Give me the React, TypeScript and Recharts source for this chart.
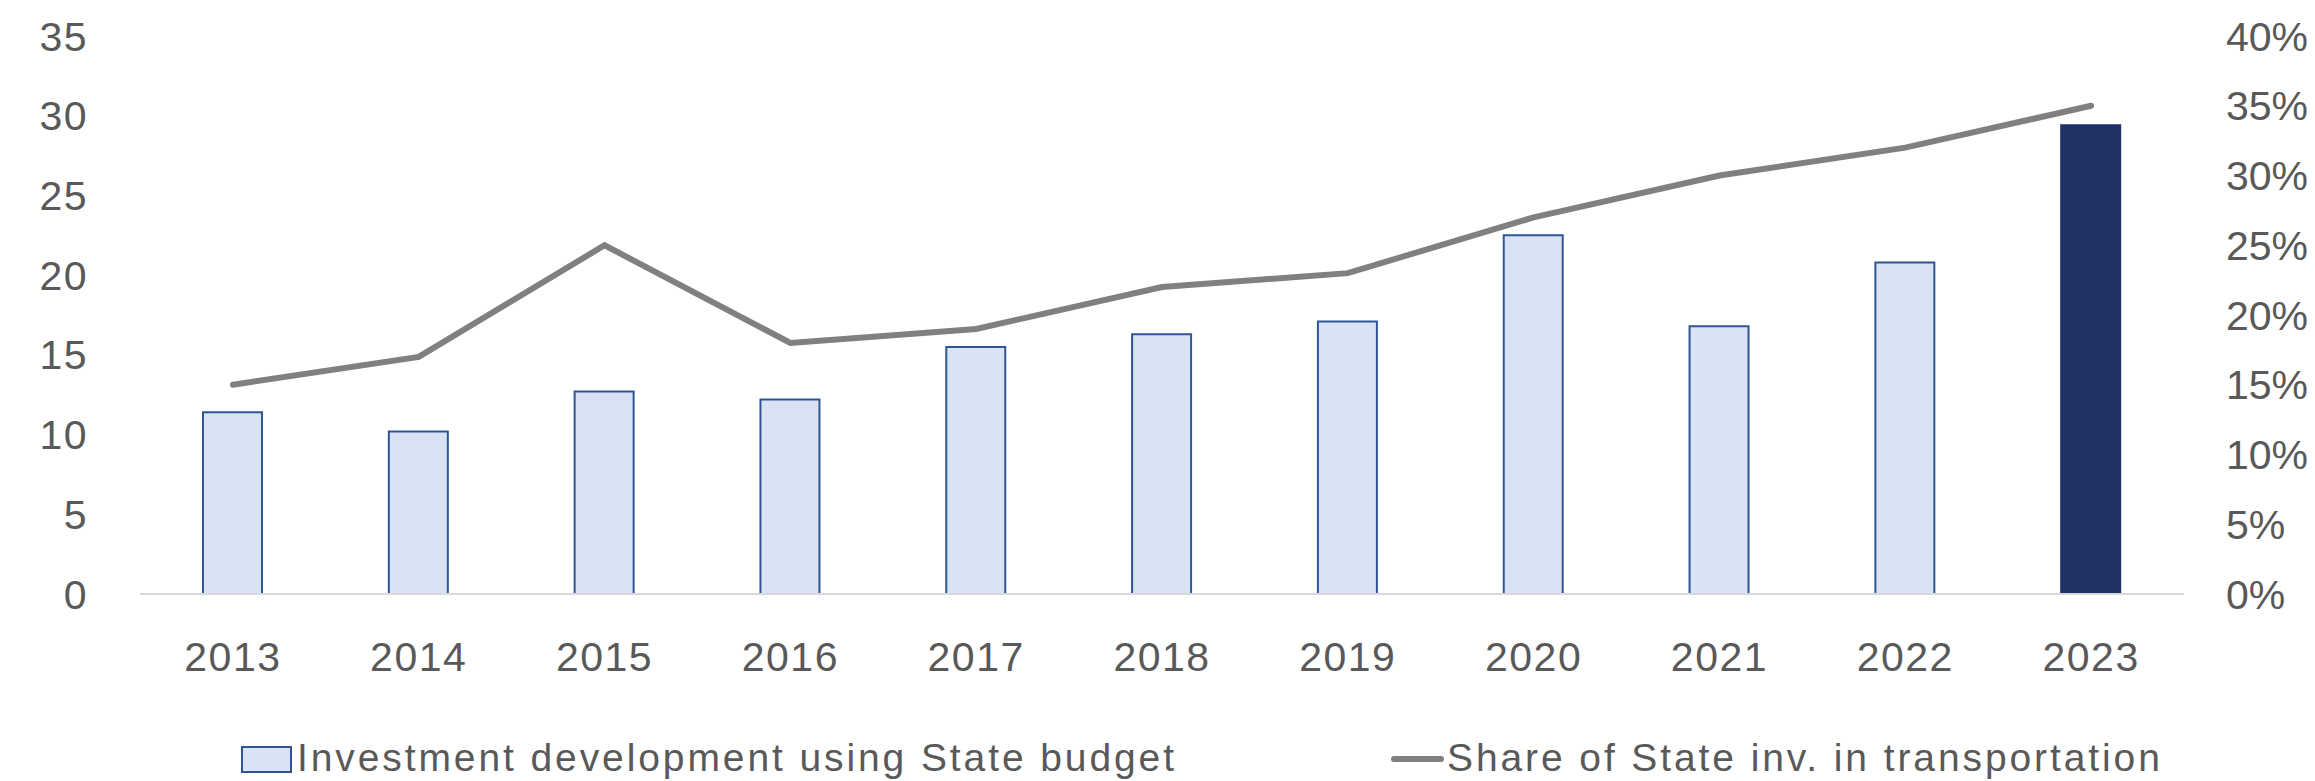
import React from "react";
import {
  ComposedChart, Bar, Line, XAxis, YAxis, Legend, Cell,
} from "recharts";

const years = ["2013", "2014", "2015", "2016", "2017", "2018", "2019", "2020", "2021", "2022", "2023"];
const investment = [11.4, 10.2, 12.7, 12.2, 15.5, 16.3, 17.1, 22.5, 16.8, 20.8, 29.4];
const sharePct = [15, 17, 25, 18, 19, 22, 23, 27, 30, 32, 35];
const leftTicks = [0, 5, 10, 15, 20, 25, 30, 35];
const rightTicks = [0, 5, 10, 15, 20, 25, 30, 35, 40];

const barName = "Investment development using State budget";
const lineName = "Share of State inv. in transportation";

const data = years.map((y, i) => ({ year: y, inv: investment[i], share: sharePct[i] }));

const FONT = "'Liberation Sans', Arial, sans-serif";
const TEXT = "#595959";
const tickStyle = { fontSize: 41, fill: TEXT, fontFamily: FONT, letterSpacing: 1.5 };
const rightTickStyle = { fontSize: 41, fill: TEXT, fontFamily: FONT, letterSpacing: 0 };

function renderLegend() {
  const label: React.CSSProperties = {
    position: "absolute",
    top: 0,
    fontSize: 39,
    lineHeight: "30px",
    color: TEXT,
    fontFamily: FONT,
    letterSpacing: 2.9,
    whiteSpace: "nowrap",
  };
  return (
    <div style={{ position: "relative", width: 2299, height: 30 }}>
      <div style={{ position: "absolute", left: 233, top: 3, width: 47, height: 23, background: "#DAE3F3", border: "2px solid #2F5597" }} />
      <span style={{ ...label, left: 289 }}>{barName}</span>
      <div style={{ position: "absolute", left: 1383, top: 13, width: 53, height: 6, borderRadius: 3, background: "#808080" }} />
      <span style={{ ...label, left: 1439 }}>{lineName}</span>
    </div>
  );
}

export default function App() {
  return (
    <div>
      <style>{`body{overflow:hidden}`}</style>
      <ComposedChart width={2299} height={773} data={data} margin={{ top: 28, right: 0, bottom: 8, left: 0 }}>
        <XAxis
          dataKey="year"
          height={149}
          tickLine={false}
          tickSize={0}
          tickMargin={48}
          axisLine={{ stroke: "#D9D9D9", strokeWidth: 2 }}
          tick={tickStyle}
          interval={0}
        />
        <YAxis
          yAxisId="left"
          width={132}
          domain={[0, 35]}
          ticks={leftTicks}
          axisLine={false}
          tickLine={false}
          tickSize={0}
          tickMargin={52}
          tick={tickStyle}
          interval={0}
        />
        <YAxis
          yAxisId="right"
          orientation="right"
          width={123}
          domain={[0, 40]}
          ticks={rightTicks}
          axisLine={false}
          tickLine={false}
          tickSize={0}
          tickMargin={42}
          tick={rightTickStyle}
          tickFormatter={(v) => `${v}%`}
          interval={0}
        />
        <Legend verticalAlign="bottom" content={renderLegend} wrapperStyle={{ top: 735, bottom: "auto", left: 0 }} />
        <Bar yAxisId="left" dataKey="inv" name={barName} barSize={59} fill="#DAE3F3" stroke="#2F5597" strokeWidth={2} isAnimationActive={false}>
          {data.map((d, i) => (
            <Cell
              key={d.year}
              fill={i === data.length - 1 ? "#203263" : "#DAE3F3"}
              stroke={i === data.length - 1 ? "#203263" : "#2F5597"}
            />
          ))}
        </Bar>
        <Line
          yAxisId="right"
          dataKey="share"
          name={lineName}
          type="linear"
          stroke="#808080"
          strokeWidth={6}
          strokeLinecap="round"
          dot={false}
          activeDot={false}
          isAnimationActive={false}
        />
      </ComposedChart>
    </div>
  );
}
